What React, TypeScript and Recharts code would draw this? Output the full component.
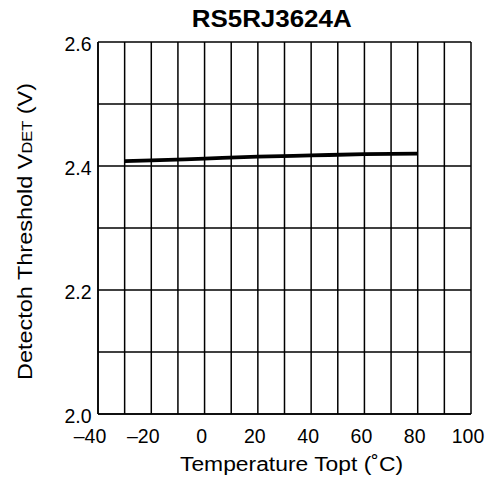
import { LineChart, Line, XAxis, YAxis, CartesianGrid } from "recharts";

// temperature (°C) vs detector threshold (V)
const temps = [-30, -20, 0, 20, 40, 60, 80];
const vdet = [2.408, 2.409, 2.412, 2.415, 2.417, 2.419, 2.42];

const xTicks = [-40, -30, -20, -10, 0, 10, 20, 30, 40, 50, 60, 70, 80, 90, 100];
const xLabels = ["–40", "", "–20", "", "0", "", "20", "", "40", "", "60", "", "80", "", "100"];
const yTicks = [2.0, 2.1, 2.2, 2.3, 2.4, 2.5, 2.6];
const yLabels = ["2.0", "", "2.2", "", "2.4", "", "2.6"];

const data = temps.map((t, i) => ({ t, v: vdet[i] }));

const FONT = "'Liberation Sans', Arial, Helvetica, sans-serif";

const XTick = (props: any) => {
  const { x, y, payload } = props;
  const idx = xTicks.indexOf(payload.value);
  const label = xLabels[idx] ?? "";
  if (!label) return null;
  const neg = payload.value < 0;
  return (
    <text
      x={x - 3 - (neg ? 5 : 0)}
      y={y + 29}
      textAnchor="middle"
      fontFamily={FONT}
      fontSize={19.5}
      fill="#000"
    >
      {label}
    </text>
  );
};

const YTick = (props: any) => {
  const { x, y, payload } = props;
  const idx = yTicks.findIndex((v) => Math.abs(v - payload.value) < 1e-6);
  const label = yLabels[idx] ?? "";
  if (!label) return null;
  return (
    <text x={x - 6.5} y={y + 8.5} textAnchor="end" fontFamily={FONT} fontSize={19.5} fill="#000">
      {label}
    </text>
  );
};

export default function App() {
  return (
    <div style={{ position: "absolute", left: 0, top: 0, width: 492, height: 483, background: "#fff" }}>
      <LineChart
        width={492}
        height={483}
        data={data}
        margin={{ top: 42, right: 21, bottom: 0, left: 0 }}
      >
        <CartesianGrid stroke="#000" strokeWidth={1.5} />
        <XAxis
          dataKey="t"
          type="number"
          domain={[-40, 100]}
          ticks={xTicks}
          interval={0}
          height={69}
          tickSize={0}
          tickMargin={0}
          tickLine={false}
          axisLine={{ stroke: "#000", strokeWidth: 1.5 }}
          tick={<XTick />}
        />
        <YAxis
          type="number"
          domain={[2.0, 2.6]}
          ticks={yTicks}
          interval={0}
          width={98}
          tickSize={0}
          tickMargin={0}
          tickLine={false}
          axisLine={{ stroke: "#000", strokeWidth: 1.5 }}
          tick={<YTick />}
        />
        <Line
          dataKey="v"
          type="monotone"
          stroke="#000"
          strokeWidth={3.8}
          dot={false}
          activeDot={false}
          isAnimationActive={false}
        />
        <text
          x={271.7}
          y={26.7}
          textAnchor="middle"
          fontFamily={FONT}
          fontWeight="bold"
          fontSize={24}
          textLength={160}
          lengthAdjust="spacingAndGlyphs"
          fill="#000"
        >
          RS5RJ3624A
        </text>
        <text
          x={291.5}
          y={470.5}
          textAnchor="middle"
          fontFamily={FONT}
          fontSize={20}
          textLength={223}
          lengthAdjust="spacingAndGlyphs"
          fill="#000"
        >
          Temperature Topt (˚C)
        </text>
        <text
          x={31.5}
          y={231.5}
          transform="rotate(-90 31.5 231.5)"
          textAnchor="middle"
          fontFamily={FONT}
          fontSize={20}
          textLength={297}
          lengthAdjust="spacingAndGlyphs"
          fill="#000"
        >
          Detectoh Threshold V<tspan fontSize={14}>DET</tspan> (V)
        </text>
      </LineChart>
    </div>
  );
}
